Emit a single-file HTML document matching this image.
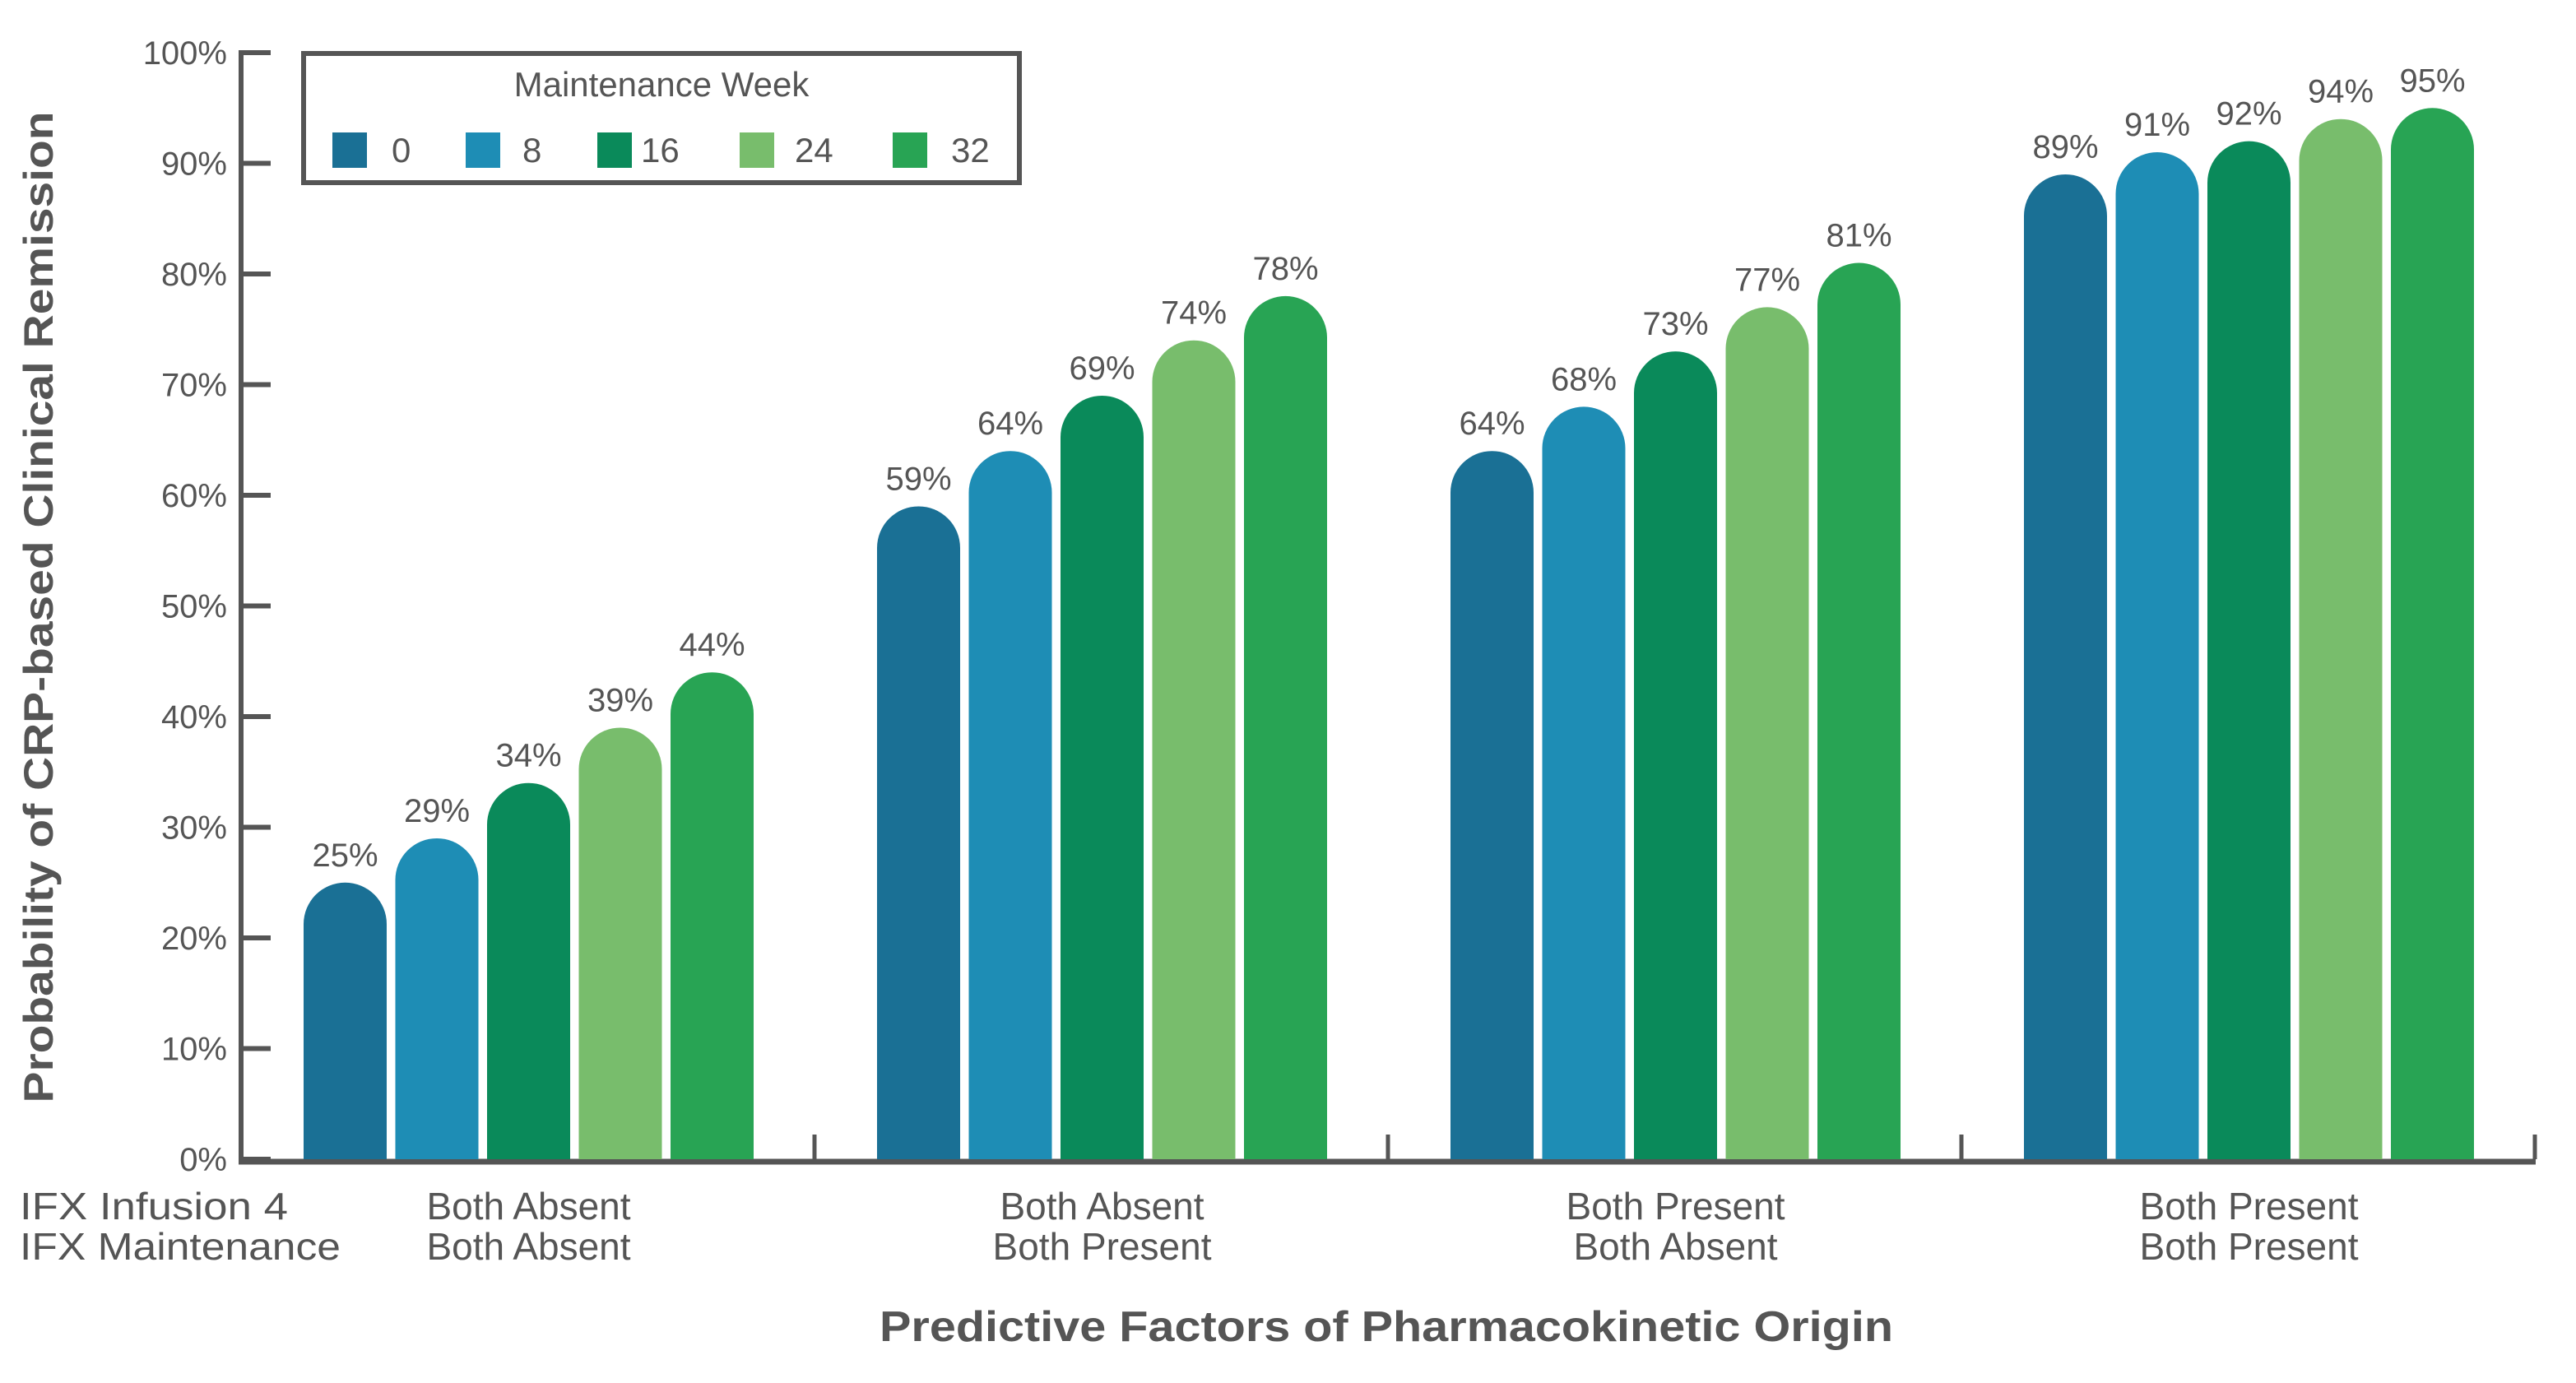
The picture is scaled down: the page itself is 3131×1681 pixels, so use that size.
<!DOCTYPE html>
<html><head><meta charset="utf-8"><style>
html,body{margin:0;padding:0;background:#fff;}
svg{display:block;font-family:"Liberation Sans",sans-serif;}
</style></head><body>
<svg id="chart" width="3131" height="1681" viewBox="0 0 3131 1681" xmlns="http://www.w3.org/2000/svg">
<g id="axes"></g>
<g id="bars"></g>
<g id="labels"></g>
<text transform="translate(64,738) rotate(-90)" text-anchor="middle" font-size="50" font-weight="bold" fill="#555" textLength="1205" lengthAdjust="spacingAndGlyphs">Probability of CRP-based Clinical Remission</text>
<text x="1685" y="1630" text-anchor="middle" font-size="52" font-weight="bold" fill="#555" textLength="1232" lengthAdjust="spacingAndGlyphs">Predictive Factors of Pharmacokinetic Origin</text>
<text x="24" y="1482" font-size="46" fill="#555" textLength="326" lengthAdjust="spacingAndGlyphs">IFX Infusion 4</text>
<text x="24" y="1531" font-size="46" fill="#555" textLength="390" lengthAdjust="spacingAndGlyphs">IFX Maintenance</text>
<g>
<rect x="369" y="65" width="870" height="157" fill="none" stroke="#555" stroke-width="6"/>
<text x="804" y="117" text-anchor="middle" font-size="42" fill="#555">Maintenance Week</text>
<g id="legend-items"></g>
</g>
</svg>
<script>
const categoriesTop = ["Both Absent","Both Absent","Both Present","Both Present"];
const categoriesBottom = ["Both Absent","Both Present","Both Absent","Both Present"];
const seriesNames = ["0","8","16","24","32"];
const week0 = [25,59,64,89];
const week8 = [29,64,68,91];
const week16 = [34,69,73,92];
const week24 = [39,74,77,94];
const week32 = [44,78,81,95];
const yTicks = [0,10,20,30,40,50,60,70,80,90,100];
const series = [week0,week8,week16,week24,week32];
const colors = ["#1a7095","#1e8db5","#0a8a5a","#78bd6c","#28a454"];

const NS = "http://www.w3.org/2000/svg";
const X0 = 293, XEND = 3082, Y0 = 1409, Y100 = 64;
const GROUP_W = 697, FIRST = 369, PITCH = 111.5, BW = 101;
function yScale(v){ return Y0 - (Y0 - Y100) * v / 100; }
function xBar(g, s){ return FIRST + g * GROUP_W + s * PITCH; }
function mk(tag, attrs, parent){ const e = document.createElementNS(NS, tag); for (const k in attrs) e.setAttribute(k, attrs[k]); parent.appendChild(e); return e; }

const axes = document.getElementById('axes');
const bars = document.getElementById('bars');
const labels = document.getElementById('labels');

yTicks.forEach(t => {
  const y = yScale(t);
  const tk = mk('line', {x1: X0, x2: X0 + 36, y1: y, y2: y, stroke: '#555', 'stroke-width': 6}, axes);
  
  
  const tl = mk('text', {x: 276, y: y + 14, 'text-anchor': 'end', 'font-size': 40, fill: '#555'}, axes);
  tl.textContent = t + '%';
  
  
});
const ya = mk('line', {x1: X0, x2: X0, y1: Y100 - 3, y2: Y0 + 3, stroke: '#555', 'stroke-width': 6}, axes);



series.forEach((vals, s) => {
  vals.forEach((v, g) => {
    const x = xBar(g, s), top = yScale(v), r = BW / 2;
    const d = `M${x},${Y0} L${x},${top + r} A${r},${r} 0 0 1 ${x + BW},${top + r} L${x + BW},${Y0} Z`;
    const p = mk('path', {d: d, fill: colors[s]}, bars);
    
    
    const t = mk('text', {x: x + BW / 2, y: top - 20, 'text-anchor': 'middle', 'font-size': 40, fill: '#555'}, labels);
    t.textContent = v + '%';
    
    
  });
});

const xa = mk('line', {x1: X0 - 3, x2: XEND, y1: Y0 + 3, y2: Y0 + 3, stroke: '#555', 'stroke-width': 7}, axes);


categoriesTop.forEach((c, g) => {
  const sep = X0 + (g + 1) * GROUP_W;
  const tk = mk('line', {x1: sep, x2: sep, y1: Y0 - 30, y2: Y0, stroke: '#555', 'stroke-width': 5}, axes);
  
  
  const cx = xBar(g, 2) + BW / 2;
  const t1 = mk('text', {x: cx, y: 1482, 'text-anchor': 'middle', 'font-size': 46, fill: '#555'}, axes);
  t1.textContent = c;
  
  
  const t2 = mk('text', {x: cx, y: 1531, 'text-anchor': 'middle', 'font-size': 46, fill: '#555'}, axes);
  t2.textContent = categoriesBottom[g];
  
  
});

const li = document.getElementById('legend-items');
const swX = [404, 566, 726, 899, 1085];
const lbX = [476, 635, 779, 966, 1156];
seriesNames.forEach((n, i) => {
  const r = mk('rect', {x: swX[i], y: 161, width: 42, height: 43, fill: colors[i]}, li);
  
  
  const t = mk('text', {x: lbX[i], y: 197, 'font-size': 42, fill: '#555'}, li);
  t.textContent = n;
  
  
});
</script>
</body></html>
